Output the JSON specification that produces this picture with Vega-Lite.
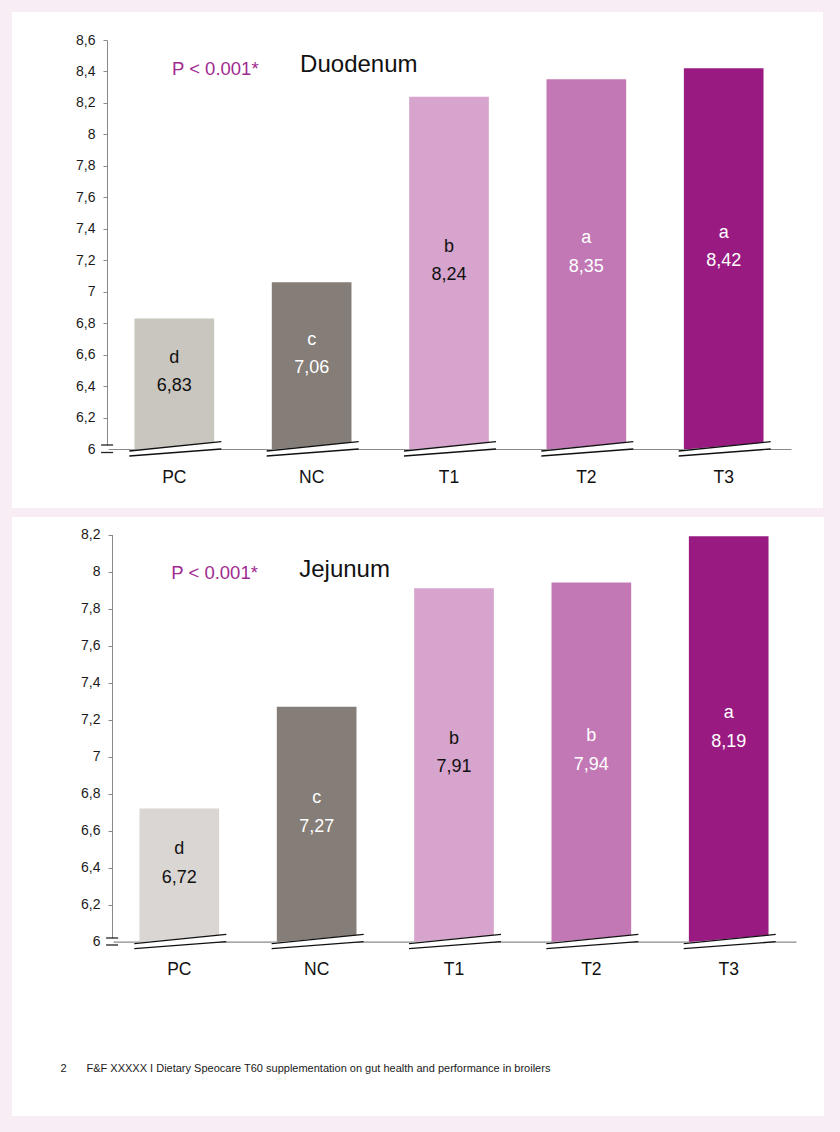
{
  "$schema": "https://vega.github.io/schema/vega-lite/v6.json",
  "background": "#f8edf5",
  "padding": {"left": 12, "top": 12, "right": 16, "bottom": 16},
  "spacing": 9,
  "config": {
    "font": "Liberation Sans",
    "view": {"fill": "white", "stroke": null},
    "locale": {"number": {"decimal": ",", "thousands": ".", "grouping": [3], "currency": ["", " €"]}}
  },
  "resolve": {"scale": {"x": "independent", "y": "independent", "color": "independent"}},
  "datasets": {
    "duo": [
      {"cat": "PC", "value": 6.83, "grp": "d"},
      {"cat": "NC", "value": 7.06, "grp": "c"},
      {"cat": "T1", "value": 8.24, "grp": "b"},
      {"cat": "T2", "value": 8.35, "grp": "a"},
      {"cat": "T3", "value": 8.42, "grp": "a"}
    ],
    "jej": [
      {"cat": "PC", "value": 6.72, "grp": "d"},
      {"cat": "NC", "value": 7.27, "grp": "c"},
      {"cat": "T1", "value": 7.91, "grp": "b"},
      {"cat": "T2", "value": 7.94, "grp": "b"},
      {"cat": "T3", "value": 8.19, "grp": "a"}
    ]
  },
  "vconcat": [
    {
      "width": 811,
      "height": 496,
      "resolve": {"scale": {"y": "independent"}, "axis": {"x": "independent", "y": "independent"}},
      "layer": [
        {
          "data": {"name": "duo"},
          "mark": {"type": "bar"},
          "encoding": {
            "x": {"field": "cat", "type": "nominal", "sort": null,
              "scale": {"range": [95, 779], "paddingInner": 0.42, "paddingOuter": 0.2},
              "axis": {"orient": "bottom", "offset": -59, "title": null, "domainColor": "#8a8a8a", "domainWidth": 1.2, "ticks": false, "tickSize": 0, "labelPadding": 19, "labelFontSize": 17.5, "labelColor": "#111", "labelAngle": 0}},
            "y": {"field": "value", "type": "quantitative",
              "scale": {"domain": [6, 8.6], "range": [437, 28], "nice": false, "zero": false},
              "axis": {"offset": -95, "title": null, "grid": false, "values": [6, 6.2, 6.4, 6.6, 6.8, 7, 7.2, 7.4, 7.6, 7.8, 8, 8.2, 8.4, 8.6], "format": ".1~f", "domainColor": "#8a8a8a", "tickColor": "#8a8a8a", "tickSize": 4, "tickOpacity": {"condition": {"test": "datum.value === 6", "value": 0}, "value": 1}, "labelPadding": 8, "labelFontSize": 14, "labelColor": "#1a1a1a"}},
            "y2": {"datum": 6},
            "color": {"field": "cat", "type": "nominal", "sort": null, "legend": null,
              "scale": {"domain": ["PC", "NC", "T1", "T2", "T3"], "range": ["#c9c5bf", "#857d77", "#d6a4cc", "#c278b5", "#991b82"]}}
          }
        },
        {
          "data": {"name": "duo"},
          "mark": {"type": "rule", "color": "white", "strokeWidth": 7, "xOffset": -45, "x2Offset": 47, "yOffset": 4.5, "y2Offset": -3.6},
          "encoding": {"x": {"field": "cat", "type": "nominal", "sort": null, "axis": null}, "x2": {"field": "cat"}, "y": {"datum": 6, "type": "quantitative", "scale": {"domain": [6, 8.6], "range": [437, 28], "nice": false, "zero": false}, "axis": null}, "y2": {"datum": 6}}
        },
        {
          "data": {"name": "duo"},
          "mark": {"type": "rule", "color": "#111", "strokeWidth": 1.3, "xOffset": -45, "x2Offset": 47, "yOffset": 2, "y2Offset": -7.3},
          "encoding": {"x": {"field": "cat", "type": "nominal", "sort": null, "axis": null}, "x2": {"field": "cat"}, "y": {"datum": 6, "type": "quantitative", "scale": {"domain": [6, 8.6], "range": [437, 28], "nice": false, "zero": false}, "axis": null}, "y2": {"datum": 6}}
        },
        {
          "data": {"name": "duo"},
          "mark": {"type": "rule", "color": "#111", "strokeWidth": 1.3, "xOffset": -45, "x2Offset": 47, "yOffset": 7, "y2Offset": 0},
          "encoding": {"x": {"field": "cat", "type": "nominal", "sort": null, "axis": null}, "x2": {"field": "cat"}, "y": {"datum": 6, "type": "quantitative", "scale": {"domain": [6, 8.6], "range": [437, 28], "nice": false, "zero": false}, "axis": null}, "y2": {"datum": 6}}
        },
        {
          "data": {"values": [{"mark": "break"}]},
          "mark": {"type": "rule", "color": "white", "strokeWidth": 3, "xOffset": -67.2, "yOffset": -3.5, "y2Offset": 6},
          "encoding": {"x": {"datum": "PC", "type": "nominal", "axis": null}, "y": {"datum": 6, "type": "quantitative", "scale": {"domain": [6, 8.6], "range": [437, 28], "nice": false, "zero": false}, "axis": null}, "y2": {"datum": 6}}
        },
        {
          "data": {"values": [{"mark": "break"}]},
          "mark": {"type": "rule", "color": "#222", "strokeWidth": 1.3, "xOffset": -73.2, "x2Offset": -61.2, "yOffset": -4},
          "encoding": {"x": {"datum": "PC", "type": "nominal", "axis": null}, "x2": {"datum": "PC"}, "y": {"datum": 6, "type": "quantitative", "scale": {"domain": [6, 8.6], "range": [437, 28], "nice": false, "zero": false}, "axis": null}}
        },
        {
          "data": {"values": [{"mark": "break"}]},
          "mark": {"type": "rule", "color": "#222", "strokeWidth": 1.3, "xOffset": -73.2, "x2Offset": -61.2, "yOffset": 3.5},
          "encoding": {"x": {"datum": "PC", "type": "nominal", "axis": null}, "x2": {"datum": "PC"}, "y": {"datum": 6, "type": "quantitative", "scale": {"domain": [6, 8.6], "range": [437, 28], "nice": false, "zero": false}, "axis": null}}
        },
        {
          "data": {"values": [{"label": "P < 0.001*"}]},
          "mark": {"type": "text", "fontSize": 18.5, "color": "#a12a90", "align": "center", "baseline": "middle", "dx": 41, "dy": 1},
          "encoding": {"x": {"datum": "PC", "type": "nominal", "axis": null}, "y": {"datum": 8.42, "type": "quantitative", "scale": {"domain": [6, 8.6], "range": [437, 28], "nice": false, "zero": false}, "axis": null}, "text": {"field": "label"}}
        },
        {
          "data": {"values": [{"label": "Duodenum"}]},
          "mark": {"type": "text", "fontSize": 24, "color": "#111", "align": "left", "baseline": "middle", "dx": 125.8},
          "encoding": {"x": {"datum": "PC", "type": "nominal", "axis": null}, "y": {"datum": 8.441, "type": "quantitative", "scale": {"domain": [6, 8.6], "range": [437, 28], "nice": false, "zero": false}, "axis": null}, "text": {"field": "label"}}
        },
        {
          "data": {"name": "duo"},
          "mark": {"type": "text", "fontSize": 18, "baseline": "middle", "dy": 2.5},
          "encoding": {
            "x": {"field": "cat", "type": "nominal", "sort": null, "axis": null},
            "y": {"field": "value", "type": "quantitative", "scale": {"domain": [6, 11.2], "range": [437, 28], "nice": false, "zero": false}, "axis": null},
            "color": {"condition": {"test": "datum.cat === 'PC' || datum.cat === 'T1'", "value": "#111"}, "value": "white"},
            "text": {"field": "value", "type": "quantitative", "format": ".2f"}
          }
        },
        {
          "data": {"name": "duo"},
          "mark": {"type": "text", "fontSize": 18, "baseline": "middle", "dy": -26},
          "encoding": {
            "x": {"field": "cat", "type": "nominal", "sort": null, "axis": null},
            "y": {"field": "value", "type": "quantitative", "scale": {"domain": [6, 11.2], "range": [437, 28], "nice": false, "zero": false}, "axis": null},
            "color": {"condition": {"test": "datum.cat === 'PC' || datum.cat === 'T1'", "value": "#111"}, "value": "white"},
            "text": {"field": "grp"}
          }
        }
      ]
    },
    {
      "width": 812,
      "height": 599,
      "resolve": {"scale": {"y": "independent"}, "axis": {"x": "independent", "y": "independent"}},
      "layer": [
        {
          "data": {"name": "jej"},
          "mark": {"type": "bar"},
          "encoding": {
            "x": {"field": "cat", "type": "nominal", "sort": null,
              "scale": {"range": [100, 784], "paddingInner": 0.42, "paddingOuter": 0.2},
              "axis": {"orient": "bottom", "offset": -174.3, "title": "F&F XXXXX I Dietary  Speocare T60 supplementation on gut health and performance in broilers", "titleX": 74, "titleY": 126.3, "titleAlign": "left", "titleBaseline": "middle", "titleFontSize": 11, "titleFontWeight": "normal", "titleColor": "#1a1a1a", "titleLimit": 800, "domainColor": "#8a8a8a", "domainWidth": 1.2, "ticks": false, "tickSize": 0, "labelPadding": 19, "labelFontSize": 17.5, "labelColor": "#111", "labelAngle": 0}},
            "y": {"field": "value", "type": "quantitative",
              "scale": {"domain": [6, 8.2], "range": [424.7, 17.5], "nice": false, "zero": false},
              "axis": {"offset": -100, "title": "2", "titleAngle": 0, "titleX": -49, "titleY": 551, "titleAlign": "center", "titleBaseline": "middle", "titleFontSize": 11, "titleFontWeight": "normal", "titleColor": "#1a1a1a", "grid": false, "values": [6, 6.2, 6.4, 6.6, 6.8, 7, 7.2, 7.4, 7.6, 7.8, 8, 8.2], "format": ".1~f", "domainColor": "#8a8a8a", "tickColor": "#8a8a8a", "tickSize": 4, "tickOpacity": {"condition": {"test": "datum.value === 6", "value": 0}, "value": 1}, "labelPadding": 8, "labelFontSize": 14, "labelColor": "#1a1a1a"}},
            "y2": {"datum": 6},
            "color": {"field": "cat", "type": "nominal", "sort": null, "legend": null,
              "scale": {"domain": ["PC", "NC", "T1", "T2", "T3"], "range": ["#d9d6d3", "#857d77", "#d6a4cc", "#c278b5", "#991b82"]}}
          }
        },
        {
          "data": {"name": "jej"},
          "mark": {"type": "rule", "color": "white", "strokeWidth": 7, "xOffset": -45, "x2Offset": 47, "yOffset": 4.5, "y2Offset": -3.6},
          "encoding": {"x": {"field": "cat", "type": "nominal", "sort": null, "axis": null}, "x2": {"field": "cat"}, "y": {"datum": 6, "type": "quantitative", "scale": {"domain": [6, 8.2], "range": [424.7, 17.5], "nice": false, "zero": false}, "axis": null}, "y2": {"datum": 6}}
        },
        {
          "data": {"name": "jej"},
          "mark": {"type": "rule", "color": "#111", "strokeWidth": 1.3, "xOffset": -45, "x2Offset": 47, "yOffset": 2, "y2Offset": -7.3},
          "encoding": {"x": {"field": "cat", "type": "nominal", "sort": null, "axis": null}, "x2": {"field": "cat"}, "y": {"datum": 6, "type": "quantitative", "scale": {"domain": [6, 8.2], "range": [424.7, 17.5], "nice": false, "zero": false}, "axis": null}, "y2": {"datum": 6}}
        },
        {
          "data": {"name": "jej"},
          "mark": {"type": "rule", "color": "#111", "strokeWidth": 1.3, "xOffset": -45, "x2Offset": 47, "yOffset": 7, "y2Offset": 0},
          "encoding": {"x": {"field": "cat", "type": "nominal", "sort": null, "axis": null}, "x2": {"field": "cat"}, "y": {"datum": 6, "type": "quantitative", "scale": {"domain": [6, 8.2], "range": [424.7, 17.5], "nice": false, "zero": false}, "axis": null}, "y2": {"datum": 6}}
        },
        {
          "data": {"values": [{"mark": "break"}]},
          "mark": {"type": "rule", "color": "white", "strokeWidth": 3, "xOffset": -67.2, "yOffset": -3.3, "y2Offset": 6},
          "encoding": {"x": {"datum": "PC", "type": "nominal", "axis": null}, "y": {"datum": 6, "type": "quantitative", "scale": {"domain": [6, 8.2], "range": [424.7, 17.5], "nice": false, "zero": false}, "axis": null}, "y2": {"datum": 6}}
        },
        {
          "data": {"values": [{"mark": "break"}]},
          "mark": {"type": "rule", "color": "#222", "strokeWidth": 1.3, "xOffset": -73.2, "x2Offset": -61.2, "yOffset": -3.7},
          "encoding": {"x": {"datum": "PC", "type": "nominal", "axis": null}, "x2": {"datum": "PC"}, "y": {"datum": 6, "type": "quantitative", "scale": {"domain": [6, 8.2], "range": [424.7, 17.5], "nice": false, "zero": false}, "axis": null}}
        },
        {
          "data": {"values": [{"mark": "break"}]},
          "mark": {"type": "rule", "color": "#222", "strokeWidth": 1.3, "xOffset": -73.2, "x2Offset": -61.2, "yOffset": 3.3},
          "encoding": {"x": {"datum": "PC", "type": "nominal", "axis": null}, "x2": {"datum": "PC"}, "y": {"datum": 6, "type": "quantitative", "scale": {"domain": [6, 8.2], "range": [424.7, 17.5], "nice": false, "zero": false}, "axis": null}}
        },
        {
          "data": {"values": [{"label": "P < 0.001*"}]},
          "mark": {"type": "text", "fontSize": 18.5, "color": "#a12a90", "align": "center", "baseline": "middle", "dx": 35.3, "dy": 1},
          "encoding": {"x": {"datum": "PC", "type": "nominal", "axis": null}, "y": {"datum": 8.0, "type": "quantitative", "scale": {"domain": [6, 8.2], "range": [424.7, 17.5], "nice": false, "zero": false}, "axis": null}, "text": {"field": "label"}}
        },
        {
          "data": {"values": [{"label": "Jejunum"}]},
          "mark": {"type": "text", "fontSize": 24, "color": "#111", "align": "left", "baseline": "middle", "dx": 119.9},
          "encoding": {"x": {"datum": "PC", "type": "nominal", "axis": null}, "y": {"datum": 8.01, "type": "quantitative", "scale": {"domain": [6, 8.2], "range": [424.7, 17.5], "nice": false, "zero": false}, "axis": null}, "text": {"field": "label"}}
        },
        {
          "data": {"name": "jej"},
          "mark": {"type": "text", "fontSize": 18, "baseline": "middle", "dy": 2.5},
          "encoding": {
            "x": {"field": "cat", "type": "nominal", "sort": null, "axis": null},
            "y": {"field": "value", "type": "quantitative", "scale": {"domain": [6, 10.4], "range": [424.7, 17.5], "nice": false, "zero": false}, "axis": null},
            "color": {"condition": {"test": "datum.cat === 'PC' || datum.cat === 'T1'", "value": "#111"}, "value": "white"},
            "text": {"field": "value", "type": "quantitative", "format": ".2f"}
          }
        },
        {
          "data": {"name": "jej"},
          "mark": {"type": "text", "fontSize": 18, "baseline": "middle", "dy": -26},
          "encoding": {
            "x": {"field": "cat", "type": "nominal", "sort": null, "axis": null},
            "y": {"field": "value", "type": "quantitative", "scale": {"domain": [6, 10.4], "range": [424.7, 17.5], "nice": false, "zero": false}, "axis": null},
            "color": {"condition": {"test": "datum.cat === 'PC' || datum.cat === 'T1'", "value": "#111"}, "value": "white"},
            "text": {"field": "grp"}
          }
        }
      ]
    }
  ]
}
